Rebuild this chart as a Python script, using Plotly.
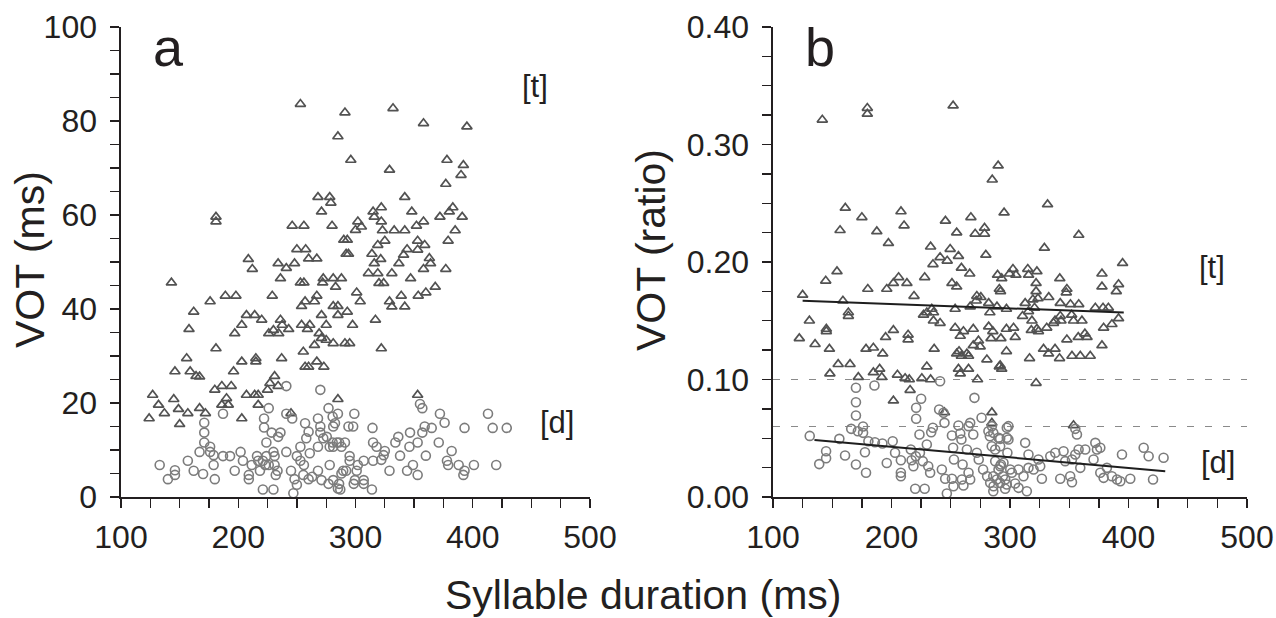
import plotly.graph_objects as go

# ---------------- Panel a: VOT (ms) vs syllable duration (ms) ----------------
a_t_dur = [253,291,285,296,181,181,268,278,279,271,246,256,280,302,300,290,293,292,294,250,257.5,260,267,208.6,212,234,241,248,236,253,256,272.5,272,281,288,143,
           332,358,395,329,378,392,390,377,342,348,383,380,372,391,315,316,322,305,322,323,333,342,352,358,385,379,353,359,353,344,341,325,319,314,321.5,316,337,363,364,358,377,311,319,331,347,320,324,368,
           189,198,176,229,162,207,214,220,203,236,237.5,243,230,226,234.5,158,197,181,156,146,159,164,167,196,203,215,215,237,231,227,234,225,180,186,194,207,214,217,127,132,137,124,145,149,150,157,167,172,186,190,191.5,203,217,245,255.5,265,269,271,275,281,291,295,297.5,254,261,259,271,275,281,285,285,293,301,304,254,257,265,267,257,260,267,273,285,
           283,317,322,329,331,339,353.5,360,342,353]
a_t_vot = [83.6,81.8,76.7,71.7,59.6,58.6,63.8,63.8,62.6,60.7,57.7,57.7,57.7,58.6,56.8,54.7,54.7,51.7,51.7,52.7,52.7,50.7,50.7,50.6,48.5,49.7,48.7,49.7,46.5,45.6,45.6,46.5,45.6,46.5,46.5,45.6,
           82.7,79.5,78.8,69.6,71.7,70.6,68.5,66.6,63.8,60.7,61.6,60.7,59.6,59.6,60.7,59.6,61.6,57.5,58.6,56.7,56.7,56.7,57.7,58.6,56.7,54.5,54.5,53.6,52.6,52.7,51.5,54.5,53.6,51.7,50.6,49.7,49.7,50.8,49.7,48.5,48.5,47.6,47.6,47.6,46.5,45.5,45.5,44.7,
           42.8,42.8,41.6,42.8,39.4,38.7,38.7,37.7,36.6,37.7,36.6,35.7,35.5,34.8,34.8,35.7,34.8,31.6,29.5,26.7,26.7,25.7,25.6,26.7,28.8,29.5,28.8,29.5,25.7,24.2,23.6,22.8,22.8,23.6,23.6,21.7,21.7,21.7,21.7,19.6,17.8,16.7,20.8,18.7,15.5,17.8,18.9,17.8,19.6,21,19.6,16.7,19.6,17.8,30.9,32.3,34.8,33.8,33.4,32.7,32.7,32.7,36.6,36.6,36.6,35.7,38.7,36.6,40.6,40.6,38.7,39.4,43.5,41.6,40.6,41.6,41.6,42.8,27.7,27.7,28.8,27.7,20.8,
           44.7,37.7,31.6,41.6,40.5,42.8,42.8,43.5,40.5,21.7]

a_d_dur = [133,140,146,146,157,162,170,171,171,171,167,176,176,179,179,180,187,187,193,197,202,204,209,209,211.5,216,217,221,223,224,226,221,230,218.5,222,222,224,226,228.5,230,231,232,231,234,236,241,241,233.5,241,246,245,248,247,250,250,253,253,256,257,260,258,261,255.5,260,263,268,270,270,270,268,268,271,272.5,277,280.5,281,285,275.5,278,278,280.5,281,284,286,288,291,277,281,286,285,289.5,292,294,298,299,295,295,299.5,301,
           282.5,314.5,355,357,372,376,413,359,365,357,393,417,429,346.5,336.5,334,353,346,315,318,325,324,322,315,371,382,378,379,388,393,392,401,420,338,349,344,353,360,329,307,302,288,307,307,314,287,298.5]
a_d_vot = [6.8,3.8,5.7,4.7,7.7,5.6,4.9,15.8,13.7,11.6,9.6,10.7,9.6,8.9,6.8,3.8,17.7,8.7,8.7,5.6,9.6,7.7,4.7,3.8,6.8,8.7,7.7,7.7,6.8,8.7,6.8,1.6,1.6,5.6,16.7,14.8,11.6,18.9,13.7,9.6,8.7,4.7,6.8,12.8,13.7,9.6,23.6,5.6,17.7,16.7,5.6,3.8,0.8,2.6,8.7,10.7,7.7,6.8,15.7,13.9,12.5,9.3,4.7,3.8,4.3,16.7,15,13.7,22.8,10.7,5.6,3.6,12.5,18.9,17.1,15,17.7,12.8,6.8,10.7,11.6,10.7,11.6,11.6,10.7,11.6,2.8,3.6,2.8,1.8,5.6,5.6,15,15,17.7,8.7,7.7,3.6,5.6,
           15.7,14.7,19.8,18.9,17.7,15.8,17.7,15,14.7,13.7,14.7,14.7,14.7,13.7,12.8,11.6,11.6,10.7,11.6,10.7,9.8,8.9,7.9,7.7,11.6,9.8,7.7,6.8,6.8,5.6,4.7,6.8,6.8,8.8,6.8,5.6,4.7,8.8,5.6,7.7,6.8,5,3.6,2.8,1.6,1.6,2.8]

# ---------------- Panel b: VOT ratio vs syllable duration (ms) ----------------
b_t_dur = [141.6,179.6,179.6,252,290,285,295,161,175,156.6,187.6,197.4,208,210.6,245.5,255,267,270.6,278.5,278.5,279.6,233,241,249.5,256.5,235,247,259,266,154,144.5,206,201.6,213,196,180,228,251,255,289.5,293,299.6,291,
           331.7,358,329,395,377.6,391.6,302.5,305,315,315.7,322.7,322,342,348,377.6,
           219,272,292,125,159,163.6,163.6,130.7,145,145,122.2,135.5,147.6,155,165,148,172,178.5,184.7,192.6,195,201.6,214,214,184.7,190,191.8,205,211.5,215,215.7,201.6,225.6,229.8,233,236,227,229.8,234,235.4,235.4,241,253.7,258,260.7,269,273.4,274.8,269,255,257,259,263.6,265,256.5,258,265,272.6,253.7,266.4,271.5,275.4,282,283,289,297,280.5,291,293,297,282,285.5,284,292.3,297,244.7,284.7,
           322,323.6,332.7,347.5,389.7,312.8,319.3,315.6,320.7,318.5,322.7,310.6,342.4,351,358,342.4,352,360.7,353.6,343,372,378.5,383,391.6,386,379,303,304.4,318,324,331,336.7,338,348,357.6,363.2,365,377.6,316.5,328.3,332.5,338,341.8,352.3,359.3,367.7,291.7,322,284.7,353.6]
b_t_vot = [0.321,0.331,0.326,0.333,0.282,0.270,0.242,0.246,0.238,0.227,0.226,0.216,0.243,0.231,0.235,0.225,0.238,0.224,0.229,0.224,0.206,0.213,0.204,0.211,0.205,0.198,0.201,0.195,0.190,0.192,0.184,0.187,0.182,0.182,0.177,0.177,0.187,0.182,0.179,0.189,0.186,0.190,0.177,
           0.249,0.223,0.212,0.199,0.190,0.181,0.194,0.189,0.194,0.189,0.192,0.182,0.186,0.177,0.179,
           0.171,0.171,0.175,0.172,0.167,0.157,0.154,0.150,0.143,0.141,0.135,0.130,0.126,0.113,0.113,0.105,0.102,0.126,0.127,0.122,0.136,0.142,0.138,0.134,0.106,0.109,0.102,0.104,0.101,0.100,0.091,0.082,0.101,0.111,0.100,0.126,0.155,0.157,0.160,0.157,0.150,0.148,0.144,0.137,0.141,0.143,0.133,0.128,0.129,0.122,0.124,0.120,0.122,0.120,0.109,0.105,0.109,0.100,0.160,0.162,0.167,0.170,0.165,0.157,0.162,0.160,0.117,0.111,0.109,0.124,0.145,0.141,0.135,0.135,0.143,0.072,0.072,
           0.175,0.169,0.170,0.174,0.175,0.165,0.168,0.158,0.161,0.150,0.143,0.154,0.165,0.164,0.164,0.154,0.155,0.150,0.150,0.150,0.161,0.161,0.161,0.152,0.147,0.144,0.144,0.136,0.142,0.141,0.144,0.148,0.150,0.134,0.136,0.139,0.136,0.129,0.118,0.126,0.122,0.126,0.118,0.120,0.120,0.120,0.112,0.097,0.063,0.061]

b_d_dur = [131,144.8,144.8,139,156,160.8,170,178.5,177.6,170,170,170,185.6,166,171.6,176,176,180.5,186,192.3,201,196,203,207.9,207.9,207.9,216.3,217,218.5,220.5,224,226.4,229.8,231,232.6,220,228,246.7,225,220.8,220.8,223.6,234.9,233.5,240.2,241,243.9,244.7,251,252,252.7,258,259,260,256.5,263.6,265,266.4,242.5,245.3,251,252.3,259.4,260.7,265,266.4,270,269,276,281.8,283,284.6,272,273.6,277.3,280.7,283.3,286.1,291.7,291.7,292.3,290.3,294,296,297.3,297.8,
           284.7,285.9,290.3,297.3,298.7,298.7,287.5,287.5,291.7,294.5,285.9,288.8,291.7,285.9,297.3,295.9,304.3,307.2,314.2,300.2,301.6,307.2,311.4,315.6,319.9,325.5,326.9,342.4,350.8,352.3,312.8,315.6,324,334,338.2,345.2,346.6,352.3,355.1,357.9,363.5,359.3,370.5,373.4,372,376.2,376.2,379,381.8,386,390.3,393.1,394.5,401.5,412.8,417,429.6,420.7,355.1,356.5]
b_d_vot = [0.052,0.039,0.033,0.028,0.0495,0.0353,0.0277,0.0206,0.0381,0.093,0.0807,0.0694,0.0949,0.058,0.056,0.060,0.0546,0.0475,0.0466,0.0455,0.0475,0.029,0.0376,0.0313,0.0206,0.0177,0.0404,0.0313,0.0262,0.0347,0.0376,0.0305,0.0447,0.0262,0.0206,0.007,0.007,0.003,0.0836,0.0759,0.0666,0.0532,0.0589,0.0551,0.0745,0.0985,0.0717,0.0631,0.0523,0.0419,0.0319,0.054,0.0489,0.0277,0.0609,0.0404,0.0603,0.0631,0.0234,0.0155,0.0155,0.0092,0.0149,0.0098,0.0206,0.0149,0.0844,0.0532,0.0674,0.056,0.0517,0.0432,0.0376,0.0319,0.0234,0.0177,0.0121,0.0092,0.0495,0.0432,0.0277,0.0234,0.0177,0.0149,0.0589,0.0376,
           0.0603,0.0546,0.0504,0.0504,0.049,0.0603,0.0404,0.0305,0.0262,0.0291,0.0177,0.0149,0.012,0.0049,0.0106,0.007,0.0115,0.0078,0.0049,0.0234,0.0206,0.0234,0.0177,0.0248,0.0234,0.0262,0.0155,0.0155,0.0177,0.0126,0.0461,0.0362,0.0319,0.0347,0.0376,0.039,0.0305,0.0319,0.0362,0.0404,0.0404,0.0248,0.0319,0.0404,0.0461,0.0419,0.0206,0.0163,0.0248,0.0177,0.0149,0.0134,0.0362,0.0155,0.0419,0.0347,0.0334,0.0149,0.058,0.0532]

# regression lines and reference thresholds
t_fit_dur = [125, 396]
t_fit_ratio = [0.167, 0.157]
d_fit_dur = [135, 431]
d_fit_ratio = [0.0485, 0.022]
thresholds = [0.10, 0.06]

FONT = "Liberation Sans, Arial, Helvetica, sans-serif"
INK = "#231f20"
TRI = "#525252"
CIR = "#7c7c7c"

W, H = 1276, 618
def fx(px):
    return px / W
def fy(py):
    return 1 - py / H

fig = go.Figure()

def tri(x, y, xa, ya):
    return go.Scatter(x=x, y=y, xaxis=xa, yaxis=ya, mode="markers", cliponaxis=False,
                      marker=dict(symbol="triangle-up-open", size=9, color=TRI, line=dict(width=1.7, color=TRI)),
                      showlegend=False, hoverinfo="skip")

def cir(x, y, xa, ya):
    return go.Scatter(x=x, y=y, xaxis=xa, yaxis=ya, mode="markers", cliponaxis=False,
                      marker=dict(symbol="circle-open", size=9, color=CIR, line=dict(width=1.6, color=CIR)),
                      showlegend=False, hoverinfo="skip")

fig.add_trace(tri(a_t_dur, a_t_vot, "x", "y"))
fig.add_trace(cir(a_d_dur, a_d_vot, "x", "y"))

for th in thresholds:
    fig.add_trace(go.Scatter(x=[100, 500], y=[th, th], xaxis="x2", yaxis="y2", mode="lines",
                             line=dict(color="#8a8a8a", width=1, dash="7px,11px"), showlegend=False, hoverinfo="skip"))
fig.add_trace(tri(b_t_dur, b_t_vot, "x2", "y2"))
fig.add_trace(cir(b_d_dur, b_d_vot, "x2", "y2"))
fig.add_trace(go.Scatter(x=t_fit_dur, y=t_fit_ratio, xaxis="x2", yaxis="y2", mode="lines",
                         line=dict(color="#1e1e1e", width=2), showlegend=False, hoverinfo="skip"))
fig.add_trace(go.Scatter(x=d_fit_dur, y=d_fit_ratio, xaxis="x2", yaxis="y2", mode="lines",
                         line=dict(color="#1e1e1e", width=2), showlegend=False, hoverinfo="skip"))

TICKFONT = dict(size=32, color=INK, family=FONT)
common_x = dict(range=[100, 500], dtick=100, tick0=100, ticks="outside", ticklen=9, tickwidth=1.3, tickcolor=INK,
                showline=True, linecolor=INK, linewidth=1.6, showgrid=False, zeroline=False, automargin=False,
                ticklabelstandoff=2, tickfont=TICKFONT,
                minor=dict(dtick=25, tick0=100, ticks="outside", ticklen=9, tickwidth=1.3, tickcolor=INK, showgrid=False))
common_y = dict(ticks="outside", ticklen=9, tickwidth=1.3, tickcolor=INK, showline=True, linecolor=INK,
                linewidth=1.6, showgrid=False, zeroline=False, ticklabelstandoff=7, automargin=False,
                tickfont=TICKFONT)

fig.update_layout(
    template="none",
    width=W, height=H, margin=dict(l=0, r=0, t=0, b=0, pad=0, autoexpand=False),
    paper_bgcolor="white", plot_bgcolor="white",
    font=dict(family=FONT, color=INK),
    xaxis=dict(domain=[fx(121), fx(590)], anchor="y", **common_x),
    xaxis2=dict(domain=[fx(773), fx(1247)], anchor="y2", **common_x),
    yaxis=dict(domain=[fy(497), fy(27)], anchor="x", range=[0, 100], dtick=20, tick0=0,
               minor=dict(dtick=5, tick0=0, ticks="outside", ticklen=9, tickwidth=1.3, tickcolor=INK, showgrid=False),
               **common_y),
    yaxis2=dict(domain=[fy(497), fy(27)], anchor="x2", range=[0, 0.4], dtick=0.1, tick0=0, tickformat=".2f",
                minor=dict(dtick=0.025, tick0=0, ticks="outside", ticklen=9, tickwidth=1.3, tickcolor=INK, showgrid=False),
                **common_y),
)

ann = [
    dict(text="a", x=fx(168), y=fy(47), font=dict(size=54)),
    dict(text="b", x=fx(820), y=fy(47), font=dict(size=54)),
    dict(text="[t]", x=fx(535), y=fy(87), font=dict(size=31)),
    dict(text="[d]", x=fx(557), y=fy(422), font=dict(size=31)),
    dict(text="[t]", x=fx(1212), y=fy(267), font=dict(size=31)),
    dict(text="[d]", x=fx(1218), y=fy(462), font=dict(size=31)),
    dict(text="VOT (ms)", x=fx(30), y=fy(260), textangle=-90, font=dict(size=41)),
    dict(text="VOT (ratio)", x=fx(651), y=fy(250), textangle=-90, font=dict(size=41)),
    dict(text="Syllable duration (ms)", x=fx(643), y=fy(595), font=dict(size=41)),
]
for a in ann:
    a.update(xref="paper", yref="paper", showarrow=False, xanchor="center", yanchor="middle")
    a["font"].update(family=FONT, color=INK)
    fig.add_annotation(**a)

# remove the default page margin so the 1276x618 figure fills the window exactly
fig.write_html("out.html", config={"displayModeBar": False, "staticPlot": True},
               post_script="document.body.style.margin='0';document.body.style.overflow='hidden';")
